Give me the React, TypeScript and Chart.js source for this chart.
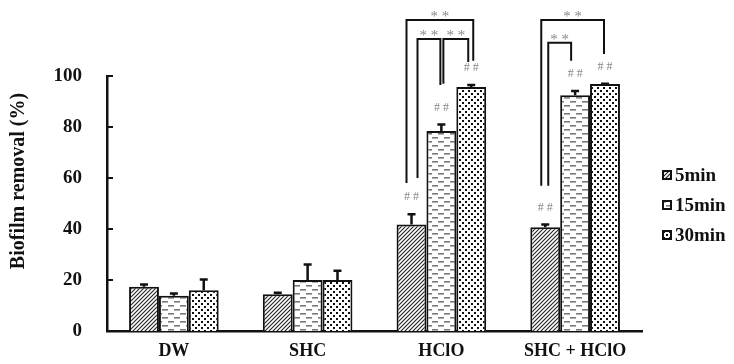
import React, { useEffect, useRef } from "react";
import { Chart, registerables } from "chart.js";
Chart.register(...registerables);

const categories = ["DW", "SHC", "HClO", "SHC + HClO"];
const seriesNames = ["5min", "15min", "30min"];
const values5 = [17.4, 14.4, 41.8, 40.7];
const values15 = [13.8, 20.0, 78.4, 92.5];
const values30 = [16.0, 20.0, 95.7, 96.9];
const err5 = [1.2, 1.0, 4.4, 1.5];
const err15 = [1.3, 6.5, 3.0, 2.0];
const err30 = [4.6, 4.0, 1.2, 0.5];
const hash5 = [false, false, true, true];
const hash15 = [false, false, true, true];
const hash30 = [false, false, true, true];
const yTicks = [0, 20, 40, 60, 80, 100];
const yTitle = "Biofilm removal (%)";

// significance brackets: category, bars compared, top level and leg ends (data units)
const brackets = [
  { cat: 2, from: 0, to: 2, top: 122, fromEnd: 58, toEnd: 106, fromShift: -5, toShift: 2 },
  { cat: 2, from: 0, to: 1, top: 114.5, fromEnd: 60, toEnd: 96.5, fromShift: 6, toShift: -1 },
  { cat: 2, from: 1, to: 2, top: 114.5, fromEnd: 97, toEnd: 105.5, fromShift: 2, toShift: -3 },
  { cat: 3, from: 0, to: 2, top: 122, fromEnd: 57, toEnd: 108.6, fromShift: -4, toShift: -1 },
  { cat: 3, from: 0, to: 1, top: 113, fromEnd: 57, toEnd: 106, fromShift: 3, toShift: -4 },
];

const FONT = "'Liberation Serif', 'Times New Roman', serif";

function makePattern(kind: number): CanvasPattern | string {
  const c = document.createElement("canvas");
  let w = 4, h = 4;
  if (kind === 1) { w = 12; h = 8; }
  if (kind === 2) { w = 6; h = 6; }
  c.width = w; c.height = h;
  const g = c.getContext("2d");
  if (!g) return "#fff";
  g.fillStyle = "#fff";
  g.fillRect(0, 0, w, h);
  if (kind === 0) {
    g.strokeStyle = "#222";
    g.lineWidth = 1.1;
    g.beginPath();
    g.moveTo(0, h); g.lineTo(w, 0);
    g.moveTo(-1, 1); g.lineTo(1, -1);
    g.moveTo(w - 1, h + 1); g.lineTo(w + 1, h - 1);
    g.stroke();
  } else if (kind === 1) {
    g.fillStyle = "#7a7a7a";
    g.fillRect(0, 1, 6, 1.6);
    g.fillRect(6, 5, 6, 1.6);
  } else {
    g.fillStyle = "#111";
    g.fillRect(0, 0, 2, 2);
    g.fillRect(3, 3, 2, 2);
  }
  const p = g.createPattern(c, "repeat");
  return p || "#fff";
}

export default function App() {
  const ref = useRef<HTMLCanvasElement | null>(null);
  useEffect(() => {
    if (!ref.current) return;
    const pats = [makePattern(0), makePattern(1), makePattern(2)];
    const vals = [values5, values15, values30];
    const errs = [err5, err15, err30];
    const hashes = [hash5, hash15, hash30];

    const overlay = {
      id: "overlay",
      afterDatasetsDraw(chart: any) {
        const ctx = chart.ctx;
        const y = chart.scales.y;
        const area = chart.chartArea;
        ctx.save();
        // inward y ticks
        ctx.strokeStyle = "#111";
        ctx.lineWidth = 2;
        yTicks.forEach((t) => {
          const py = Math.round(y.getPixelForValue(t));
          ctx.beginPath();
          ctx.moveTo(area.left, py);
          ctx.lineTo(area.left + 6, py);
          ctx.stroke();
        });
        // y title
        ctx.save();
        ctx.translate(19, 181);
        ctx.rotate(-Math.PI / 2);
        ctx.fillStyle = "#111";
        ctx.font = `bold 20px ${FONT}`;
        ctx.textAlign = "center";
        ctx.textBaseline = "middle";
        ctx.fillText(yTitle, 0, 0);
        ctx.restore();
        // error bars and ## marks
        for (let d = 0; d < 3; d++) {
          const meta = chart.getDatasetMeta(d);
          meta.data.forEach((bar: any, i: number) => {
            const top = y.getPixelForValue(vals[d][i] + errs[d][i]);
            ctx.strokeStyle = "#111";
            ctx.lineWidth = 2.5;
            ctx.beginPath();
            ctx.moveTo(bar.x, bar.y);
            ctx.lineTo(bar.x, top);
            ctx.moveTo(bar.x - 4, top + 1);
            ctx.lineTo(bar.x + 4, top + 1);
            ctx.stroke();
            if (hashes[d][i]) {
              ctx.fillStyle = "#888";
              ctx.font = `12px ${FONT}`;
              ctx.textAlign = "center";
              ctx.textBaseline = "middle";
              ctx.fillText("# #", bar.x, top - 16);
            }
          });
        }
        // brackets
        brackets.forEach((b) => {
          const b1 = chart.getDatasetMeta(b.from).data[b.cat];
          const b2 = chart.getDatasetMeta(b.to).data[b.cat];
          const x1 = b1.x + b.fromShift;
          const x2 = b2.x + b.toShift;
          const yt = y.getPixelForValue(b.top);
          ctx.strokeStyle = "#111";
          ctx.lineWidth = 2;
          ctx.beginPath();
          ctx.moveTo(x1, y.getPixelForValue(b.fromEnd));
          ctx.lineTo(x1, yt);
          ctx.lineTo(x2, yt);
          ctx.lineTo(x2, y.getPixelForValue(b.toEnd));
          ctx.stroke();
          ctx.fillStyle = "#888";
          ctx.font = `15px ${FONT}`;
          ctx.textAlign = "center";
          ctx.textBaseline = "alphabetic";
          ctx.fillText("* *", (x1 + x2) / 2, yt + 1);
        });
        // legend
        const lx = area.right + 20;
        const ly = [175, 205, 235];
        seriesNames.forEach((name, i) => {
          const cy = ly[i];
          ctx.fillStyle = pats[i];
          ctx.fillRect(lx, cy - 5, 10, 10);
          ctx.strokeStyle = "#111";
          ctx.lineWidth = 2;
          ctx.strokeRect(lx + 1, cy - 4, 8, 8);
          ctx.fillStyle = "#111";
          ctx.font = `bold 19px ${FONT}`;
          ctx.textAlign = "left";
          ctx.textBaseline = "middle";
          ctx.fillText(name, lx + 13, cy + 1);
        });
        ctx.restore();
      },
    };

    const chart = new Chart(ref.current, {
      type: "bar",
      data: {
        labels: categories,
        datasets: seriesNames.map((name, i) => ({
          label: name,
          data: vals[i],
          backgroundColor: pats[i] as any,
          borderColor: "#111",
          borderWidth: 2,
          borderSkipped: "bottom",
          barPercentage: 1,
          categoryPercentage: 0.67,
        })),
      },
      options: {
        responsive: false,
        animation: false,
        layout: { padding: { top: 76, right: 92, left: 0, bottom: 0 } },
        plugins: { legend: { display: false }, tooltip: { enabled: false } },
        scales: {
          x: {
            grid: { display: false, drawTicks: false },
            border: { display: true, width: 2.5, color: "#111" },
            ticks: { color: "#111", padding: 10, font: { family: FONT, size: 18, weight: "bold" } },
            afterFit: (s: any) => { s.height = 33; s.paddingLeft = 0; s.paddingRight = 0; },
          },
          y: {
            min: 0,
            max: 100,
            grid: { display: false, drawTicks: false },
            border: { display: true, width: 2.5, color: "#111" },
            ticks: { stepSize: 20, color: "#111", padding: 25, font: { family: FONT, size: 19, weight: "bold" } },
            afterFit: (s: any) => { s.width = 107; s.paddingTop = 0; s.paddingBottom = 0; },
          },
        },
      },
      plugins: [overlay],
    });
    return () => chart.destroy();
  }, []);
  return (
    <canvas
      ref={ref}
      width={734}
      height={364}
      style={{ position: "fixed", left: 0, top: 0, display: "block" }}
    />
  );
}
